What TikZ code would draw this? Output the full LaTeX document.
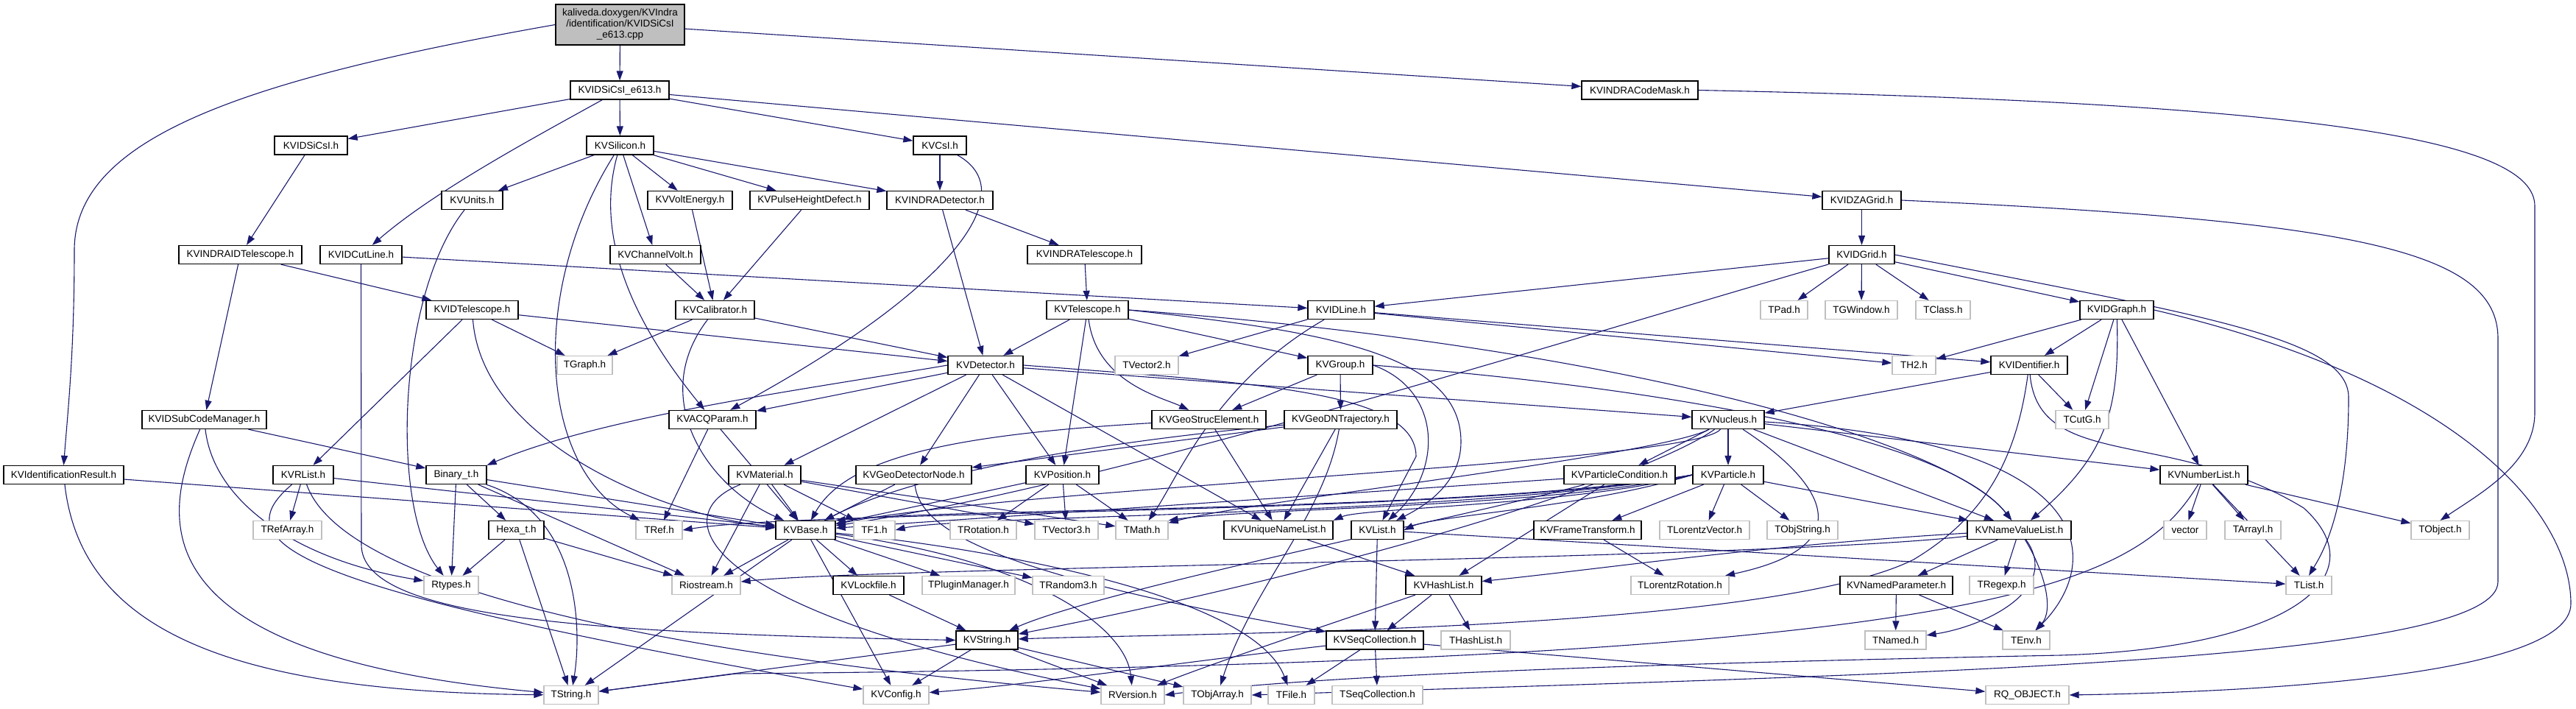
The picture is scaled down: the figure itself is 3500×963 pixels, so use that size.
\documentclass[tikz,border=0pt]{standalone}
\usepackage{fontspec}
\setmainfont{Liberation Sans}
\usetikzlibrary{arrows.meta}
\definecolor{eb}{RGB}{25,25,112}
\definecolor{gb}{RGB}{191,191,191}
\pgfdeclarelayer{bg}
\pgfsetlayers{bg,main}
\begin{document}
\begin{tikzpicture}[x=1pt,y=-1pt,
  n/.style={draw=black, line width=1.3pt, minimum height=25pt, inner sep=0pt, font=\fontsize{13.5}{15}\selectfont, fill=white},
  g/.style={n, draw=gb},
  rootbox/.style={n, fill=gb, align=center, minimum height=55pt},
  e/.style={draw=eb, line width=1.1pt, -{Triangle[length=13pt,width=9pt]}}]
\useasboundingbox (0,0) rectangle (3500,963);
% nodes
\node[rootbox, minimum width=175pt] (root) at (842.5,33.5) {kaliveda.doxygen/KVIndra\\/identification/KVIDSiCsI\\\_e613.cpp};
\node[n, minimum width=134pt] (e613) at (842,122.5) {KVIDSiCsI\_e613.h};
\node[n, minimum width=163pt] (KVIdRes) at (86.5,645) {KVIdentificationResult.h};
\node[n, minimum width=158pt] (CodeMask) at (2228,122.5) {KVINDRACodeMask.h};
\node[n, minimum width=99pt] (IDSiCsI) at (422.5,197.5) {KVIDSiCsI.h};
\node[n, minimum width=91pt] (Silicon) at (842.5,197.5) {KVSilicon.h};
\node[n, minimum width=72pt] (CsI) at (1277,197.5) {KVCsI.h};
\node[n, minimum width=107pt] (ZAGrid) at (2529.5,272) {KVIDZAGrid.h};
\node[n, minimum width=83pt] (Units) at (641.5,272) {KVUnits.h};
\node[n, minimum width=115pt] (VoltE) at (937.5,272) {KVVoltEnergy.h};
\node[n, minimum width=162pt] (PHD) at (1100,272) {KVPulseHeightDefect.h};
\node[n, minimum width=144pt] (INDRADet) at (1277,272) {KVINDRADetector.h};
\node[n, minimum width=167pt] (INDRAIDTel) at (326.5,346) {KVINDRAIDTelescope.h};
\node[n, minimum width=111pt] (CutLine) at (490.5,346) {KVIDCutLine.h};
\node[n, minimum width=123pt] (ChVolt) at (890.5,346) {KVChannelVolt.h};
\node[n, minimum width=155pt] (INDRATel) at (1473.5,346) {KVINDRATelescope.h};
\node[n, minimum width=89pt] (IDGrid) at (2529.5,346) {KVIDGrid.h};
\node[n, minimum width=125pt] (IDTel) at (641.5,421) {KVIDTelescope.h};
\node[n, minimum width=107pt] (Calib) at (971.5,421) {KVCalibrator.h};
\node[n, minimum width=111pt] (Tel) at (1477.5,421) {KVTelescope.h};
\node[n, minimum width=90pt] (IDLine) at (1822,421) {KVIDLine.h};
\node[g, minimum width=64pt] (TPad) at (2424,421) {TPad.h};
\node[g, minimum width=98pt] (TGWindow) at (2529,421) {TGWindow.h};
\node[g, minimum width=74pt] (TClass) at (2640,421) {TClass.h};
\node[n, minimum width=100pt] (IDGraph) at (2876,421) {KVIDGraph.h};
\node[g, minimum width=75pt] (TGraph) at (794.5,496) {TGraph.h};
\node[n, minimum width=102pt] (Det) at (1339,496) {KVDetector.h};
\node[g, minimum width=86pt] (TVector2) at (1558,496) {TVector2.h};
\node[n, minimum width=88pt] (Group) at (1821,496) {KVGroup.h};
\node[g, minimum width=59pt] (TH2) at (2600.5,496) {TH2.h};
\node[n, minimum width=104pt] (IDent) at (2757,496) {KVIDentifier.h};
\node[n, minimum width=169pt] (SubCode) at (277.5,570) {KVIDSubCodeManager.h};
\node[n, minimum width=118pt] (ACQ) at (968,570) {KVACQParam.h};
\node[n, minimum width=155pt] (GSE) at (1642.5,570) {KVGeoStrucElement.h};
\node[n, minimum width=153pt] (GDN) at (1821.5,570) {KVGeoDNTrajectory.h};
\node[n, minimum width=98pt] (Nucleus) at (2348,570) {KVNucleus.h};
\node[g, minimum width=72pt] (TCutG) at (2829,570) {TCutG.h};
\node[n, minimum width=82pt] (RList) at (412,645) {KVRList.h};
\node[n, minimum width=82pt] (Binary) at (620,645) {Binary\_t.h};
\node[n, minimum width=98pt] (Material) at (1039,645) {KVMaterial.h};
\node[n, minimum width=157pt] (GDNode) at (1241.5,645) {KVGeoDetectorNode.h};
\node[n, minimum width=99pt] (Position) at (1443.5,645) {KVPosition.h};
\node[n, minimum width=151pt] (PartCond) at (2200.5,645) {KVParticleCondition.h};
\node[n, minimum width=96pt] (Particle) at (2348,645) {KVParticle.h};
\node[n, minimum width=119pt] (NumList) at (2994.5,645) {KVNumberList.h};
\node[g, minimum width=93pt] (TRefArray) at (390.5,720) {TRefArray.h};
\node[n, minimum width=75pt] (Hexa) at (701.5,720) {Hexa\_t.h};
\node[g, minimum width=63pt] (TRef) at (895.5,720) {TRef.h};
\node[n, minimum width=81pt] (Base) at (1094.5,720) {KVBase.h};
\node[g, minimum width=56pt] (TF1) at (1188,720) {TF1.h};
\node[g, minimum width=90pt] (TRotation) at (1336,720) {TRotation.h};
\node[g, minimum width=86pt] (TVector3) at (1449,720) {TVector3.h};
\node[g, minimum width=71pt] (TMath) at (1551.5,720) {TMath.h};
\node[n, minimum width=148pt] (UNL) at (1737,720) {KVUniqueNameList.h};
\node[n, minimum width=71pt] (List) at (1871.5,720) {KVList.h};
\node[n, minimum width=146pt] (FT) at (2157,720) {KVFrameTransform.h};
\node[g, minimum width=122pt] (TLV) at (2316,720) {TLorentzVector.h};
\node[g, minimum width=96pt] (TObjString) at (2449,720) {TObjString.h};
\node[n, minimum width=141pt] (NVL) at (2743.5,720) {KVNameValueList.h};
\node[g, minimum width=58pt] (vector) at (2969,720) {vector};
\node[g, minimum width=76pt] (TArrayI) at (3061,720) {TArrayI.h};
\node[g, minimum width=79pt] (TObject) at (3315.5,720) {TObject.h};
\node[g, minimum width=74pt] (Rtypes) at (613,795) {Rtypes.h};
\node[g, minimum width=93pt] (Riostream) at (959.5,795) {Riostream.h};
\node[n, minimum width=96pt] (Lockfile) at (1180,795) {KVLockfile.h};
\node[g, minimum width=126pt] (TPM) at (1316,795) {TPluginManager.h};
\node[g, minimum width=97pt] (TRandom3) at (1451.5,795) {TRandom3.h};
\node[n, minimum width=103pt] (HashList) at (1961.5,795) {KVHashList.h};
\node[g, minimum width=133pt] (TLR) at (2282.5,795) {TLorentzRotation.h};
\node[n, minimum width=153pt] (NamedPar) at (2576.5,795) {KVNamedParameter.h};
\node[g, minimum width=87pt] (TRegexp) at (2719.5,795) {TRegexp.h};
\node[g, minimum width=62pt] (TList) at (3137,795) {TList.h};
\node[n, minimum width=84pt] (String) at (1341,869.5) {KVString.h};
\node[n, minimum width=132pt] (SeqColl) at (1868,869.5) {KVSeqCollection.h};
\node[g, minimum width=94pt] (THashList) at (2005,869.5) {THashList.h};
\node[g, minimum width=83pt] (TNamed) at (2575.5,869.5) {TNamed.h};
\node[g, minimum width=64pt] (TEnv) at (2753,869.5) {TEnv.h};
\node[g, minimum width=74pt] (TString) at (776,944) {TString.h};
\node[g, minimum width=89pt] (Config) at (1217.5,944) {KVConfig.h};
\node[g, minimum width=86pt] (RVersion) at (1539,944) {RVersion.h};
\node[g, minimum width=92pt] (TObjArray) at (1654,944) {TObjArray.h};
\node[g, minimum width=63pt] (TFile) at (1754.5,944) {TFile.h};
\node[g, minimum width=123pt] (TSeqColl) at (1871.5,944) {TSeqCollection.h};
\node[g, minimum width=113pt] (RQ) at (2754.5,944) {RQ\_OBJECT.h};
% edges
\begin{pgfonlayer}{bg}
\draw[e] (root) -- (e613);
\draw[e] (root) -- (CodeMask);
\draw[e] (root.west) .. controls (320,110) and (101,190) .. (101,340) .. controls (101,480) and (92,560) .. (KVIdRes.north);
\draw[e] (e613) -- (IDSiCsI);
\draw[e] (e613) -- (Silicon);
\draw[e] (e613) -- (CsI);
\draw[e] (e613) -- (ZAGrid);
\draw[e] (e613) .. controls (720,190) and (590,260) .. (CutLine);
\draw[e] (IDSiCsI) -- (INDRAIDTel);
\draw[e] (Silicon) -- (Units);
\draw[e] (Silicon) -- (VoltE);
\draw[e] (Silicon) -- (PHD);
\draw[e] (Silicon) -- (INDRADet);
\draw[e] (Silicon) -- (ChVolt);
\draw[e] (Silicon) .. controls (805,330) and (870,450) .. (ACQ);
\draw[e] (Silicon) .. controls (715,400) and (735,640) .. (TRef);
\draw[e] (CsI) -- (INDRADet);
\draw[e] (CsI) .. controls (1390,260) and (1300,390) .. (ACQ);
\draw[e] (CodeMask.east) .. controls (3150,140) and (3444,190) .. (3444,280) -- (3444,560) .. controls (3444,630) and (3370,670) .. (TObject.north);
\draw[e] (ZAGrid) -- (IDGrid);
\draw[e] (ZAGrid.east) .. controls (3200,300) and (3394,340) .. (3394,460) -- (3394,790) .. controls (3394,900) and (2600,915) .. (TObjArray.east);
\draw[e] (Units) .. controls (540,400) and (530,690) .. (Rtypes);
\draw[e] (VoltE) -- (Calib);
\draw[e] (PHD) -- (Calib);
\draw[e] (ChVolt) -- (Calib);
\draw[e] (INDRADet) -- (Det);
\draw[e] (INDRADet) -- (INDRATel);
\draw[e] (INDRAIDTel) -- (IDTel);
\draw[e] (INDRAIDTel) -- (SubCode);
\draw[e] (CutLine) -- (IDLine);
\draw[e] (CutLine.south) -- (491,740) .. controls (491,840) and (800,860) .. (String.west);
\draw[e] (INDRATel) -- (Tel);
\draw[e] (IDGrid) -- (IDLine);
\draw[e] (IDGrid) -- (TPad);
\draw[e] (IDGrid) -- (TGWindow);
\draw[e] (IDGrid) -- (TClass);
\draw[e] (IDGrid) -- (IDGraph);
\draw[e] (IDGrid.east) .. controls (3000,430) and (3191,460) .. (3191,540) .. controls (3191,700) and (3150,760) .. (TList.north);
\draw[e] (IDGrid) .. controls (2100,470) and (1500,660) .. (Base);
\draw[e] (IDTel) -- (TGraph);
\draw[e] (IDTel) -- (RList);
\draw[e] (IDTel) -- (Det);
\draw[e] (IDTel) .. controls (655,600) and (900,700) .. (Base);
\draw[e] (Calib) -- (TGraph);
\draw[e] (Calib) -- (Det);
\draw[e] (Calib) .. controls (880,540) and (960,660) .. (Base);
\draw[e] (Tel) -- (Det);
\draw[e] (Tel) -- (Position);
\draw[e] (Tel) -- (Group);
\draw[e] (Tel) .. controls (1490,520) and (1580,540) .. (GSE);
\draw[e] (Tel.east) .. controls (1800,450) and (1985,480) .. (1985,600) .. controls (1985,660) and (1930,690) .. (List);
\draw[e] (Tel.east) .. controls (2200,470) and (2650,600) .. (NVL);
\draw[e] (IDLine) -- (TVector2);
\draw[e] (IDLine) -- (TH2);
\draw[e] (IDLine) -- (IDent);
\draw[e] (IDLine) .. controls (1650,520) and (1600,650) .. (TMath);
\draw[e] (IDGraph) -- (TH2);
\draw[e] (IDGraph) -- (IDent);
\draw[e] (IDGraph) -- (TCutG);
\draw[e] (IDGraph) -- (NumList);
\draw[e] (IDGraph) .. controls (2880,560) and (2860,620) .. (NVL);
\draw[e] (IDGraph.east) .. controls (3350,520) and (3493,700) .. (3493,820) .. controls (3493,920) and (3050,940) .. (RQ.east);
\draw[e] (IDent) -- (TCutG);
\draw[e] (IDent) -- (Nucleus);
\draw[e] (IDent) .. controls (2740,620) and (2700,700) .. (2600,760) .. controls (2400,860) and (1600,860) .. (String);
\draw[e] (IDent) .. controls (2770,640) and (2950,580) .. (3130,690) .. controls (3230,780) and (3120,880) .. (2800,890) .. controls (2300,900) and (1800,915) .. (RVersion.east);
\draw[e] (Det) -- (ACQ);
\draw[e] (Det.west) .. controls (1100,528) and (820,565) .. (Binary.north east);
\draw[e] (Det) -- (Material);
\draw[e] (Det) -- (GDNode);
\draw[e] (Det) -- (Position);
\draw[e] (Det) -- (UNL);
\draw[e] (Det) -- (Nucleus);
\draw[e] (Det.east) .. controls (1700,520) and (1924,530) .. (1924,620) -- (List);
\draw[e] (Group) -- (GSE);
\draw[e] (Group) -- (GDN);
\draw[e] (Group.east) .. controls (1960,530) and (1960,640) .. (List);
\draw[e] (Group.east) .. controls (2300,530) and (2650,600) .. (NVL);
\draw[e] (SubCode) -- (Binary);
\draw[e] (SubCode) .. controls (290,680) and (400,760) .. (Rtypes);
\draw[e] (SubCode) .. controls (220,700) and (180,890) .. (TString);
\draw[e] (KVIdRes) .. controls (110,850) and (300,940) .. (TString);
\draw[e] (KVIdRes) -- (Base);
\draw[e] (ACQ) -- (TRef);
\draw[e] (ACQ) -- (Base);
\draw[e] (GSE) .. controls (1300,590) and (1150,620) .. (Base);
\draw[e] (GSE) -- (UNL);
\draw[e] (GDN) -- (GDNode);
\draw[e] (GDN) .. controls (1500,600) and (1250,640) .. (Base);
\draw[e] (GDN) -- (UNL);
\draw[e] (GDN) .. controls (1800,700) and (1700,800) .. (TObjArray);
\draw[e] (Nucleus) -- (PartCond);
\draw[e] (Nucleus) -- (Particle);
\draw[e] (Nucleus) -- (NumList);
\draw[e] (Nucleus) .. controls (2300,630) and (1400,660) .. (Base);
\draw[e] (Nucleus) .. controls (2250,620) and (1700,680) .. (TMath);
\draw[e] (Nucleus) .. controls (2470,650) and (2540,740) .. (TLR);
\draw[e] (Nucleus) .. controls (2850,600) and (2860,760) .. (TEnv);
\draw[e] (Nucleus) -- (NVL);
\draw[e] (Nucleus) .. controls (2250,640) and (1900,760) .. (String);
\draw[e] (RList) -- (TRefArray);
\draw[e] (RList) -- (Base);
\draw[e] (RList) .. controls (300,740) and (400,800) .. (Config);
\draw[e] (RList) .. controls (460,780) and (800,880) .. (RVersion);
\draw[e] (Binary) -- (Hexa);
\draw[e] (Binary) -- (Rtypes);
\draw[e] (Binary) .. controls (790,700) and (790,860) .. (TString);
\draw[e] (Binary) -- (Base);
\draw[e] (Binary) -- (Riostream);
\draw[e] (Material) -- (Base);
\draw[e] (Material) -- (Riostream);
\draw[e] (Material) -- (TF1);
\draw[e] (Material) -- (TVector3);
\draw[e] (Material) -- (TMath);
\draw[e] (Material) .. controls (900,700) and (950,830) .. (RVersion);
\draw[e] (GDNode) -- (Base);
\draw[e] (GDNode) .. controls (1250,720) and (1350,780) .. (SeqColl);
\draw[e] (Position) -- (TRotation);
\draw[e] (Position) -- (TVector3);
\draw[e] (Position) -- (TMath);
\draw[e] (Position) -- (Base);
\draw[e] (PartCond) -- (Base);
\draw[e] (PartCond) -- (HashList);
\draw[e] (PartCond) .. controls (2000,700) and (1500,800) .. (String);
\draw[e] (Particle) -- (FT);
\draw[e] (Particle) -- (TLV);
\draw[e] (Particle) -- (TObjString);
\draw[e] (Particle) -- (NVL);
\draw[e] (Particle.west) .. controls (2150,690) and (1950,700) .. (List.east);
\draw[e] (Particle.west) .. controls (2150,685) and (1850,690) .. (UNL.north east);
\draw[e] (Particle.west) .. controls (2100,690) and (1700,690) .. (TMath.north east);
\draw[e] (Particle.west) .. controls (2000,695) and (1300,690) .. (Base.north east);
\draw[e] (Particle.west) .. controls (2000,700) and (1300,700) .. (TF1.east);
\draw[e] (Particle.west) .. controls (2000,700) and (1100,692) .. (TRef.east);
\draw[e] (NumList) -- (vector);
\draw[e] (NumList) -- (TArrayI);
\draw[e] (NumList) -- (TList);
\draw[e] (NumList) -- (TObject);
\draw[e] (NumList) .. controls (2900,800) and (2700,900) .. (1000,915) -- (TString);
\draw[e] (Hexa) -- (Rtypes);
\draw[e] (Hexa) -- (TString);
\draw[e] (Hexa) -- (Riostream);
\draw[e] (Base) -- (Riostream);
\draw[e] (Base) -- (Lockfile);
\draw[e] (Base) -- (TPM);
\draw[e] (Base) -- (TRandom3);
\draw[e] (Base) -- (Config);
\draw[e] (Base) .. controls (1400,760) and (1530,850) .. (RVersion);
\draw[e] (Base) -- (TString);
\draw[e] (Base) .. controls (1300,740) and (1700,800) .. (TFile);
\draw[e] (List) -- (SeqColl);
\draw[e] (List) -- (TList);
\draw[e] (UNL) -- (HashList);
\draw[e] (NVL) -- (NamedPar);
\draw[e] (NVL) -- (TRegexp);
\draw[e] (NVL) .. controls (2800,800) and (2700,850) .. (TNamed);
\draw[e] (NVL) .. controls (2780,780) and (2790,830) .. (TEnv);
\draw[e] (NVL) .. controls (2400,740) and (2200,770) .. (HashList);
\draw[e] (NVL) .. controls (2400,760) and (1200,770) .. (Riostream);
\draw[e] (FT) -- (TLR);
\draw[e] (Lockfile) -- (String);
\draw[e] (HashList) -- (SeqColl);
\draw[e] (HashList) -- (THashList);
\draw[e] (HashList) .. controls (1800,850) and (1650,900) .. (RVersion);
\draw[e] (NamedPar) -- (TNamed);
\draw[e] (NamedPar) -- (TEnv);
\draw[e] (String) -- (Config);
\draw[e] (String) -- (RVersion);
\draw[e] (String) -- (TObjArray);
\draw[e] (String) -- (TString);
\draw[e] (SeqColl) -- (TFile);
\draw[e] (SeqColl) -- (TSeqColl);
\draw[e] (SeqColl) -- (RQ);
\draw[e] (SeqColl) .. controls (1600,900) and (1400,930) .. (Config);
\end{pgfonlayer}
\end{tikzpicture}
\end{document}
